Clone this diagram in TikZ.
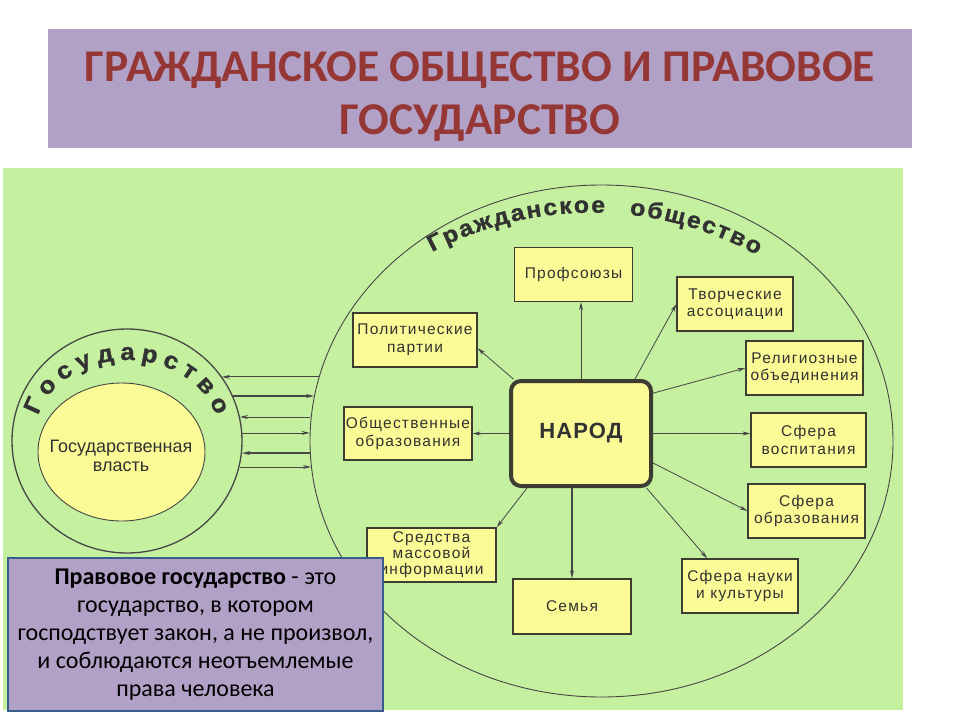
\documentclass[tikz,border=0pt]{standalone}
\usepackage{fontspec}
\setmainfont{Liberation Sans}
\newfontfamily\calibfont{Carlito}
\newfontfamily\boxfont[LetterSpace=8]{Liberation Sans}
\newfontfamily\narodfont[LetterSpace=5]{Liberation Sans}
\newfontfamily\heavyfont[FakeBold=1.2,FakeStretch=1.08]{Liberation Sans}
\usetikzlibrary{arrows.meta,shapes.geometric,decorations.text,calc}
\definecolor{bggreen}{RGB}{197,240,160}
\definecolor{boxyellow}{RGB}{250,250,150}
\definecolor{titlepurple}{HTML}{B2A1C7}
\definecolor{titlered}{HTML}{953735}
\definecolor{defborder}{HTML}{385D8A}
\definecolor{linegray}{RGB}{70,70,70}
\definecolor{boxline}{RGB}{60,60,50}
\definecolor{txtgray}{RGB}{50,50,50}
\newcommand{\civtextfont}{\heavyfont\bfseries\fontsize{23}{23}\selectfont}
\newcommand{\gostextfont}{\heavyfont\bfseries\fontsize{24}{24}\selectfont}
\tikzset{
  ybox/.style={rectangle, draw=boxline, line width=1.3pt, fill=boxyellow, inner sep=0pt,
    align=center, text=txtgray, font=\boxfont\fontsize{15.5}{17.5}\selectfont},
  narodbox/.style={rectangle, rounded corners=10pt, draw=boxline, line width=4pt, fill=boxyellow,
    minimum width=140, minimum height=105, inner sep=0pt, text=txtgray,
    font=\narodfont\bfseries\fontsize{22}{22}\selectfont},
  arr/.style={draw=linegray, line width=0.8pt, -{Stealth[length=8pt,width=4pt]}},
  larr/.style={draw=linegray, line width=0.8pt, {Stealth[length=8pt,width=4pt]}-},
}
\begin{document}
\begin{tikzpicture}[x=1pt,y=-1pt]
\useasboundingbox (0,0) rectangle (960,720);
\fill[white] (0,0) rectangle (960,720);
% title
\node[fill=titlepurple, minimum width=864, minimum height=119, inner sep=0pt] (titlebg) at (480,88.5) {};
\node[anchor=north, inner sep=0pt, align=center, text=titlered,
  font=\calibfont\bfseries\fontsize{45.5}{53}\selectfont] (title) at (480,51.5)
  {ГРАЖДАНСКОЕ ОБЩЕСТВО И ПРАВОВОЕ\\ГОСУДАРСТВО};
% green panel
\fill[bggreen] (3,168) rectangle (903,710);
% big ellipse and state circle
\node[ellipse, draw=linegray, line width=0.9pt, minimum width=583, minimum height=512, inner sep=0pt] (civ) at (601.5,441) {};
\node[ellipse, draw=linegray, line width=1.3pt, minimum width=230, minimum height=224, inner sep=0pt] (gos) at (127,441) {};
\node[ellipse, draw=linegray, line width=0.9pt, fill=boxyellow, minimum width=167, minimum height=138, inner sep=0pt] (vlast) at (121.5,452) {};
\node[inner sep=0pt, align=center, text=txtgray, font=\fontsize{18}{19.5}\selectfont] (vlastlbl) at (121,456) {Государственная\\власть};
% curved texts
{\civtextfont
\path[decorate, decoration={text along path, text={|\civtextfont\color{txtgray}|Гражданское {\hspace{12pt}}общество}, text align={fit to path}}]
  (432,252) arc[start angle=-117.7, end angle=-61.2, radius=343.4];
}
{\gostextfont
\path[decorate, decoration={text along path, text={|\gostextfont\color{txtgray}|Государство}, text align={fit to path}}]
  (38.1,415.6) arc[start angle=-165, end angle=-15, x radius=92, y radius=75];
}
% arrows between state and society
\draw[larr] (gos.34) -- (gos.34 -| civ.167);
\draw[arr, line width=1.4pt] (gos.23) -- (gos.23 -| civ.171);
\draw[larr] (gos.12) -- (gos.12 -| civ.176);
\draw[arr] (gos.4) -- (gos.4 -| civ.179);
\draw[larr, line width=1.4pt] (gos.354) -- (gos.354 -| civ.182);
\draw[arr] (gos.347) -- (gos.347 -| civ.185);
% boxes
\node[ybox, minimum width=118, minimum height=54] (prof) at (573.5,274.5) {Профсоюзы};
\node[ybox, minimum width=116, minimum height=54] (tvor) at (735,304) {Творческие\\ассоциации};
\node[ybox, minimum width=124, minimum height=54] (polit) at (415,340) {Политические\\партии};
\node[ybox, minimum width=117, minimum height=54] (relig) at (804.5,368) {Религиозные\\объединения};
\node[ybox, minimum width=128, minimum height=53] (obsh) at (408,433.5) {Общественные\\образования};
\node[ybox, minimum width=115, minimum height=54] (vosp) at (808.5,440) {Сфера\\воспитания};
\node[ybox, minimum width=117, minimum height=54] (obraz) at (806.5,511) {Сфера\\образования};
\node[ybox, minimum width=129, minimum height=54, font=\boxfont\fontsize{15.5}{16}\selectfont] (smi) at (431.5,555) {Средства\\массовой\\информации};
\node[ybox, minimum width=118, minimum height=55] (semya) at (572,606.5) {Семья};
\node[ybox, minimum width=116, minimum height=54] (nauka) at (740,586) {Сфера науки\\и культуры};
\node[narodbox] (narod) at (581,433.5) {НАРОД};
% arrows from the people
\draw[arr] (narod.north) -- (narod.north |- prof.south);
\draw[arr] ($(narod.north west)!0.875!(narod.north east)$) -- (tvor.west);
\draw[arr] ($(narod.north west)!0.03!(narod.north east)$) -- ($(polit.north east)!0.65!(polit.south east)$);
\draw[arr] ($(narod.north east)!0.13!(narod.south east)$) -- (relig.west);
\draw[arr] (narod.east) -- (narod.east -| vosp.west);
\draw[arr] ($(narod.north east)!0.77!(narod.south east)$) -- (obraz.west);
\draw[arr] ($(narod.south west)!0.955!(narod.south east)$) -- ($(nauka.north west)!0.22!(nauka.north east)$);
\draw[arr, line width=1.3pt] (semya.north |- narod.south) -- (semya.north);
\draw[arr] ($(narod.south west)!0.125!(narod.south east)$) -- (smi.north east);
\draw[arr] (narod.west) -- (obsh.east);
% definition box
\node[rectangle, draw=defborder, line width=2.5pt, fill=titlepurple, minimum width=375, minimum height=153,
  inner sep=0pt, align=center, font=\calibfont\fontsize{24}{28}\selectfont] (def) at (195.5,634.5)
  {\textbf{Правовое государство} - это\\государство, в котором\\господствует закон, а не произвол,\\и соблюдаются неотъемлемые\\права человека};
\end{tikzpicture}
\end{document}
